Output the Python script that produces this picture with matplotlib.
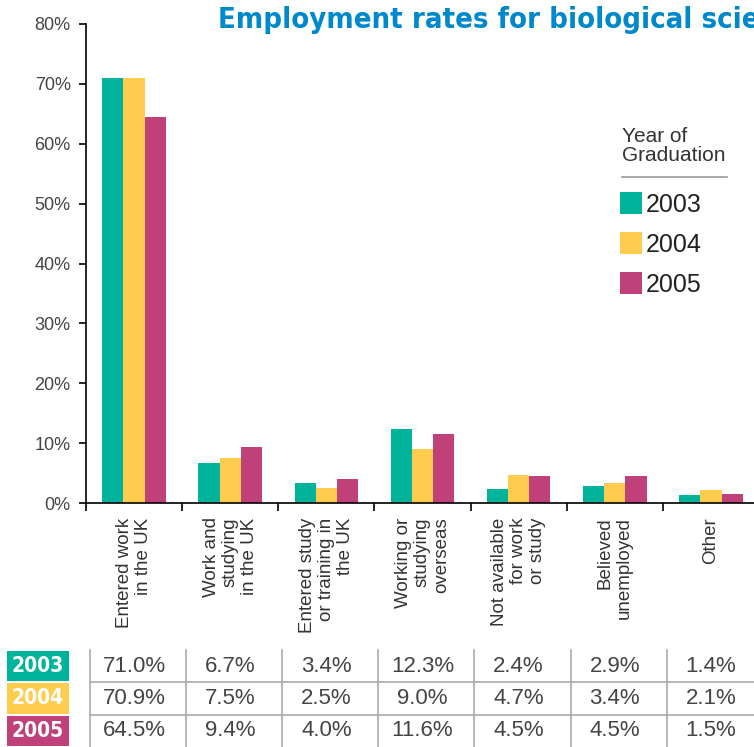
import numpy as np
import matplotlib
matplotlib.use('Agg')
import matplotlib.pyplot as plt
from matplotlib.patches import Rectangle
from matplotlib.lines import Line2D
import matplotlib.transforms as mtransforms
from matplotlib import font_manager

# data
categories = ['Entered work\nin the UK', 'Work and\nstudying\nin the UK',
              'Entered study\nor training in\nthe UK', 'Working or\nstudying\noverseas',
              'Not available\nfor work\nor study', 'Believed\nunemployed', 'Other']
years = ['2003', '2004', '2005']
vals_2003 = [71.0, 6.7, 3.4, 12.3, 2.4, 2.9, 1.4]
vals_2004 = [70.9, 7.5, 2.5, 9.0, 4.7, 3.4, 2.1]
vals_2005 = [64.5, 9.4, 4.0, 11.6, 4.5, 4.5, 1.5]
series = [vals_2003, vals_2004, vals_2005]
colors = ['#00b39b', '#ffcc4d', '#c0407a']
yticks = [0, 10, 20, 30, 40, 50, 60, 70, 80]

# a condensed bold face if one is around
cond = None
for f in font_manager.fontManager.ttflist:
    if f.weight in ('bold', 700) and ('Condensed' in f.name or 'Narrow' in f.name
                                      or f.stretch in ('condensed', 'semi-condensed')):
        cond = f.fname
        break

W, H = 754, 747
plt.rcParams['font.family'] = ['Liberation Sans', 'DejaVu Sans']
fig = plt.figure(figsize=(W/100, H/100), dpi=100)

def px(x0, y0, x1, y1):
    # pixel box (top-left origin) -> figure fraction rect
    return [x0/W, 1-y1/H, (x1-x0)/W, (y1-y0)/H]

def bold_cond(size):
    if cond:
        return dict(fontproperties=font_manager.FontProperties(fname=cond, size=size))
    return dict(fontsize=size*0.85, fontweight='bold')

ax = fig.add_axes(px(86, 24, 759, 503))
x = np.arange(len(categories))
bw = 0.22
for k, (s, c) in enumerate(zip(series, colors)):
    ax.bar(x + (k-1)*bw, s, width=bw, color=c, linewidth=0)

ax.set_xlim(-0.5, len(categories)-0.5)
ax.set_ylim(0, 80)
ax.set_yticks(yticks)
ax.set_yticklabels(['%d%%' % t for t in yticks], fontsize=13, color='#444444')
ax.set_xticks(np.arange(-0.5, len(categories), 1.0))
ax.set_xticklabels([])
ax.tick_params(axis='y', length=5, width=1.2, pad=6)
ax.tick_params(axis='x', length=6, width=1.2)
for sp in ['top', 'right']:
    ax.spines[sp].set_visible(False)
for sp in ['left', 'bottom']:
    ax.spines[sp].set_linewidth(1.2)

trans = mtransforms.blended_transform_factory(ax.transData, ax.transAxes)
for i, lab in enumerate(categories):
    ax.text(i, -0.03, lab, transform=trans, rotation=90, ha='center', va='top',
            multialignment='right', fontsize=13.5, color='#333333', linespacing=1.15)

# title (runs off the right edge as in the original)
fig.text(218/W, 1-20/H, 'Employment rates for biological sciences graduates',
         color='#0088cc', va='center', ha='left', **bold_cond(21))

# legend
fig.text(622/W, 1-146/H, 'Year of\nGraduation', fontsize=15, color='#333333',
         va='center', ha='left', linespacing=1.05)
fig.add_artist(Line2D([622/W, 727/W], [1-177/H, 1-177/H], color='#999999', lw=1.2))
for k, (yr, c) in enumerate(zip(years, colors)):
    ytop = 192 + k*40
    fig.add_artist(Rectangle((620/W, 1-(ytop+22)/H), 22/W, 22/H, color=c, lw=0))
    fig.text(646/W, 1-(ytop+13)/H, yr, fontsize=18, color='#222222', va='center', ha='left')

# data table under the chart
tax = fig.add_axes(px(86, 650, 759, 747), sharex=ax)
tax.set_ylim(3, 0)
tax.axis('off')
ncat = len(categories)
for b in range(ncat):
    tax.plot([b-0.46, b-0.46], [0, 3.1], color='#aaaaaa', lw=1.2, clip_on=False)
for r in [1, 2]:
    tax.plot([-0.46, ncat], [r, r], color='#aaaaaa', lw=1.2, clip_on=False)
for r, (yr, s, c) in enumerate(zip(years, series, colors)):
    tax.add_patch(Rectangle((-1.32, r+0.03), 0.64, 0.94, color=c, lw=0, clip_on=False))
    tax.text(-1.0, r+0.5, yr, ha='center', va='center', color='white', **bold_cond(15))
    for i, v in enumerate(s):
        tax.text(i, r+0.5, '%.1f%%' % v, ha='center', va='center', fontsize=16,
                 color='#444444')

fig.savefig('out.png', dpi=100)
